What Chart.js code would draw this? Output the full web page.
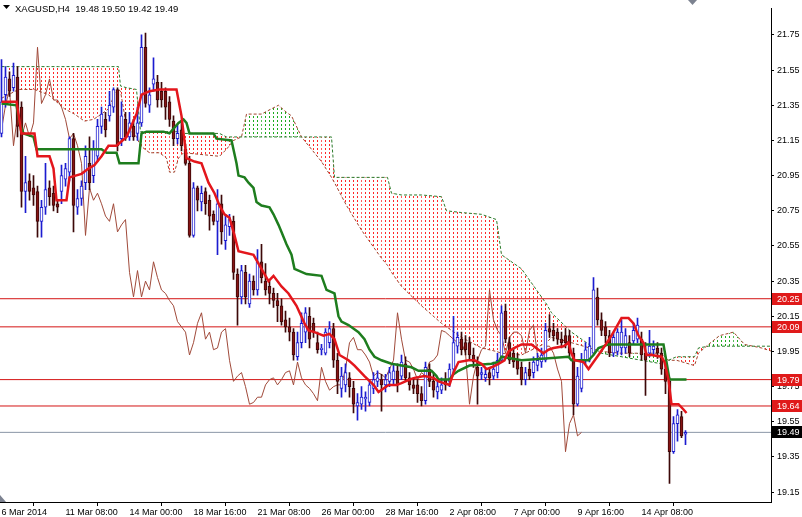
<!DOCTYPE html>
<html>
<head>
<meta charset="utf-8">
<script src="https://cdn.jsdelivr.net/npm/chart.js@4.4.1/dist/chart.umd.min.js"></script>
<style>
  html, body { margin: 0; padding: 0; background: #fff; }
  #wrap { width: 802px; height: 517px; }
</style>
</head>
<body>
<div id="wrap"><canvas id="chart" width="802" height="517"></canvas></div>
<script>
const symbolTitle = "XAGUSD,H4  19.48 19.50 19.42 19.49";

// H4 candles, one per bar (bar 0 = left edge)
const openPrices = [
  21.19, 21.41, 21.50, 21.45, 21.51, 21.34, 20.86, 20.92, 20.88, 20.86,
  20.69, 20.77, 20.88, 20.85, 20.79, 20.86, 20.93, 20.97, 21.16, 20.77,
  20.82, 20.91, 21.02, 20.95, 21.06, 21.23, 21.27, 21.29, 21.34, 21.44,
  21.16, 21.27, 21.17, 21.23, 21.19, 21.25, 21.68, 21.35, 21.47, 21.48,
  21.43, 21.43, 21.37, 21.26, 21.16, 21.21, 21.10, 21.02, 20.61, 20.88,
  20.80, 20.86, 20.81, 20.73, 20.69, 20.79, 20.58, 20.66, 20.69, 20.39,
  20.26, 20.40, 20.22, 20.35, 20.30, 20.46, 20.35, 20.32, 20.28, 20.24,
  20.21, 20.13, 20.09, 20.06, 19.92, 20.00, 20.06, 20.15, 20.11, 20.00,
  19.96, 19.94, 20.00, 20.08, 19.90, 19.74, 19.76, 19.80, 19.74, 19.64,
  19.65, 19.68, 19.66, 19.74, 19.78, 19.79, 19.76, 19.78, 19.79, 19.84,
  19.81, 19.88, 19.80, 19.76, 19.76, 19.71, 19.67, 19.85, 19.78, 19.72,
  19.73, 19.79, 19.78, 19.85, 19.98, 20.02, 20.00, 20.00, 19.93, 19.86,
  19.82, 19.80, 19.83, 19.81, 19.83, 19.90, 20.18, 20.00, 19.94, 19.90,
  19.86, 19.79, 19.85, 19.83, 19.87, 19.89, 19.90, 20.08, 20.07, 20.06,
  20.02, 20.04, 20.04, 19.94, 19.65, 19.74, 19.90, 19.90, 19.94, 20.26,
  20.13, 20.09, 20.04, 19.94, 19.95, 19.97, 19.97, 20.00, 20.01, 20.02,
  20.02, 19.94, 19.94, 19.96, 19.97, 19.94, 19.85, 19.78, 19.38, 19.54,
  19.58, 19.48
];
const highPrices = [
  21.61, 21.57, 21.54, 21.59, 21.57, 21.37, 21.06, 20.96, 20.95, 20.89,
  20.81, 21.02, 20.92, 20.89, 20.81, 21.01, 21.02, 21.17, 21.19, 20.87,
  20.92, 21.12, 21.17, 21.15, 21.27, 21.34, 21.31, 21.43, 21.45, 21.45,
  21.37, 21.31, 21.31, 21.27, 21.34, 21.75, 21.76, 21.45, 21.62, 21.52,
  21.48, 21.45, 21.40, 21.29, 21.24, 21.26, 21.13, 21.06, 20.91, 20.89,
  20.89, 20.88, 20.84, 20.75, 20.87, 20.84, 20.73, 20.73, 20.72, 20.42,
  20.44, 20.44, 20.39, 20.38, 20.53, 20.56, 20.45, 20.35, 20.31, 20.28,
  20.25, 20.18, 20.14, 20.08, 20.06, 20.17, 20.20, 20.20, 20.14, 20.06,
  19.99, 20.08, 20.12, 20.11, 19.94, 19.86, 19.88, 19.83, 19.78, 19.71,
  19.75, 19.72, 19.79, 19.83, 19.84, 19.82, 19.82, 19.86, 19.88, 19.88,
  19.93, 19.92, 19.83, 19.80, 19.79, 19.75, 19.89, 19.88, 19.82, 19.79,
  19.80, 19.83, 19.88, 20.15, 20.06, 20.06, 20.04, 20.03, 19.97, 19.92,
  19.86, 19.86, 19.86, 19.89, 19.94, 20.21, 20.22, 20.03, 19.97, 19.94,
  19.89, 19.86, 19.89, 19.92, 19.94, 19.97, 20.11, 20.16, 20.11, 20.08,
  20.06, 20.08, 20.07, 19.97, 19.86, 19.94, 20.00, 20.03, 20.37, 20.31,
  20.17, 20.12, 20.07, 20.06, 20.08, 20.13, 20.08, 20.04, 20.11, 20.14,
  20.06, 20.00, 20.07, 20.01, 20.00, 19.97, 19.88, 19.80, 19.58, 19.62,
  19.61, 19.50
];
const lowPrices = [
  21.17, 21.34, 21.40, 21.43, 21.17, 20.77, 20.74, 20.81, 20.78, 20.60,
  20.60, 20.73, 20.78, 20.75, 20.74, 20.79, 20.89, 20.92, 20.63, 20.73,
  20.78, 20.87, 20.87, 20.91, 21.03, 21.19, 21.17, 21.26, 21.31, 21.09,
  21.12, 21.15, 21.15, 21.15, 21.15, 21.23, 21.34, 21.31, 21.43, 21.34,
  21.34, 21.27, 21.23, 21.12, 21.13, 21.09, 21.01, 20.60, 20.60, 20.75,
  20.75, 20.73, 20.64, 20.67, 20.50, 20.56, 20.53, 20.61, 20.36, 20.10,
  20.22, 20.22, 20.20, 20.27, 20.27, 20.34, 20.27, 20.22, 20.20, 20.12,
  20.10, 20.06, 20.01, 19.90, 19.90, 19.97, 20.00, 19.97, 20.03, 19.94,
  19.93, 19.93, 19.97, 19.86, 19.71, 19.69, 19.72, 19.69, 19.60, 19.56,
  19.62, 19.61, 19.64, 19.71, 19.75, 19.61, 19.72, 19.75, 19.76, 19.72,
  19.79, 19.78, 19.73, 19.71, 19.66, 19.64, 19.65, 19.75, 19.69, 19.68,
  19.71, 19.73, 19.75, 19.82, 19.94, 19.93, 19.93, 19.90, 19.86, 19.65,
  19.79, 19.78, 19.76, 19.79, 19.80, 19.89, 20.00, 19.88, 19.86, 19.82,
  19.76, 19.76, 19.79, 19.80, 19.84, 19.86, 19.89, 20.03, 20.01, 19.99,
  19.97, 19.97, 19.92, 19.59, 19.64, 19.72, 19.88, 19.89, 19.93, 20.10,
  20.04, 20.00, 19.92, 19.92, 19.93, 19.93, 19.94, 19.92, 19.99, 20.00,
  19.90, 19.70, 19.92, 19.93, 19.91, 19.82, 19.71, 19.20, 19.37, 19.44,
  19.46, 19.42
];
const closePrices = [
  21.37, 21.51, 21.43, 21.52, 21.23, 20.86, 20.91, 20.86, 20.84, 20.69,
  20.77, 20.87, 20.83, 20.78, 20.77, 20.95, 20.99, 21.16, 20.78, 20.82,
  20.89, 21.06, 20.91, 21.10, 21.23, 21.30, 21.21, 21.35, 21.44, 21.12,
  21.29, 21.17, 21.25, 21.17, 21.25, 21.68, 21.36, 21.41, 21.50, 21.38,
  21.38, 21.34, 21.27, 21.16, 21.19, 21.12, 21.02, 20.61, 20.88, 20.81,
  20.85, 20.79, 20.72, 20.69, 20.79, 20.63, 20.67, 20.70, 20.40, 20.26,
  20.41, 20.26, 20.35, 20.30, 20.46, 20.37, 20.30, 20.28, 20.24, 20.21,
  20.12, 20.09, 20.06, 19.93, 20.00, 20.11, 20.17, 20.02, 20.06, 19.96,
  19.97, 20.06, 20.08, 19.90, 19.78, 19.81, 19.83, 19.75, 19.65, 19.66,
  19.69, 19.69, 19.76, 19.79, 19.80, 19.76, 19.79, 19.83, 19.84, 19.76,
  19.89, 19.80, 19.76, 19.74, 19.71, 19.67, 19.86, 19.78, 19.73, 19.75,
  19.76, 19.76, 19.85, 20.00, 20.03, 19.96, 19.96, 19.93, 19.89, 19.81,
  19.83, 19.82, 19.80, 19.85, 19.90, 20.17, 20.02, 19.90, 19.89, 19.85,
  19.79, 19.83, 19.81, 19.89, 19.90, 19.93, 20.07, 20.06, 20.04, 20.02,
  20.00, 20.00, 19.94, 19.65, 19.81, 19.90, 19.96, 19.98, 20.30, 20.13,
  20.07, 20.04, 19.94, 20.03, 20.06, 20.06, 20.04, 19.94, 20.07, 20.10,
  19.93, 19.90, 19.98, 19.98, 19.94, 19.85, 19.78, 19.38, 19.54, 19.59,
  19.47, 19.49
];

// Ichimoku lines, read as vertices (bar position, price)
const tenkanBars = [0, 3.75, 5, 8.25, 9, 12, 13, 13.75, 16.25, 17, 20, 21.75, 23.25, 25, 26.75, 28.75, 31.25, 33.75, 35, 37, 39.5, 43.75, 45, 46.25, 48.25, 50, 51.75, 53.25, 54.5, 55.75, 57, 58.25, 59.25, 63, 64.25, 66.75, 68, 70, 71.75, 73.75, 75.75, 76.75, 78.25, 80.5, 82, 83.25, 84.5, 86.75, 88.25, 90.75, 93, 94.25, 95.5, 96.75, 98.75, 100, 102, 103.25, 105.75, 108, 109.25, 112, 113, 114.25, 116.75, 118.25, 120, 121.25, 122.5, 124.25, 125.75, 126.75, 128.25, 130, 132.5, 134.25, 135.5, 136.75, 138, 140.5, 141.75, 142.5, 143.25, 145.5, 146.75, 148, 149.25, 150.75, 152.5, 153.75, 155, 156.75, 158, 159.25, 160.5, 161.25, 162.5, 165, 165.75, 166.75, 167.5, 169.25, 170.5, 171.25];
const tenkanValues = [21.37, 21.37, 21.19, 21.19, 21.06, 21.06, 20.99, 20.81, 20.81, 20.94, 20.96, 20.99, 21.01, 21.06, 21.12, 21.12, 21.17, 21.30, 21.41, 21.43, 21.44, 21.44, 21.29, 21.05, 21.03, 21.02, 20.91, 20.85, 20.78, 20.73, 20.71, 20.61, 20.52, 20.50, 20.45, 20.35, 20.38, 20.32, 20.28, 20.21, 20.11, 20.07, 20.06, 20.04, 20.05, 20.02, 19.93, 19.90, 19.87, 19.81, 19.76, 19.72, 19.74, 19.76, 19.76, 19.77, 19.79, 19.80, 19.81, 19.80, 19.78, 19.76, 19.83, 19.89, 19.90, 19.90, 19.88, 19.85, 19.86, 19.88, 19.90, 19.95, 19.97, 19.99, 19.99, 19.96, 19.94, 19.96, 19.97, 19.98, 20.00, 19.94, 19.90, 19.89, 19.85, 19.89, 19.93, 19.98, 20.04, 20.09, 20.14, 20.14, 20.11, 20.04, 20.00, 19.93, 19.93, 19.92, 19.89, 19.79, 19.65, 19.65, 19.62, 19.60];

const kijunBars = [0, 3.75, 4.5, 5.5, 8, 8.75, 25, 26.25, 28.75, 29.5, 34.25, 35, 36.25, 40.5, 42, 44.25, 45.5, 46.25, 47, 53, 53.75, 57.5, 58.75, 59.25, 60.75, 61.75, 63, 63.75, 65, 67, 68, 69.25, 70, 71.25, 72.5, 73.25, 76.25, 80, 81.25, 83.25, 84.25, 85, 86.75, 89.25, 90.75, 92, 93.25, 95, 97.5, 102.5, 104.25, 107.5, 108.75, 109.25, 112, 113, 114.25, 117, 122.5, 124.25, 125, 130, 141.75, 142.5, 146.75, 148, 149.25, 151.75, 165.5, 166.25, 167, 171.25];
const kijunValues = [21.36, 21.35, 21.25, 21.19, 21.17, 21.10, 21.10, 21.08, 21.08, 21.02, 21.02, 21.19, 21.20, 21.20, 21.19, 21.25, 21.27, 21.25, 21.19, 21.19, 21.16, 21.15, 21.02, 20.95, 20.94, 20.91, 20.88, 20.80, 20.78, 20.77, 20.73, 20.67, 20.63, 20.56, 20.50, 20.42, 20.39, 20.38, 20.30, 20.28, 20.15, 20.12, 20.10, 20.06, 20.02, 19.96, 19.92, 19.90, 19.88, 19.86, 19.84, 19.84, 19.81, 19.79, 19.79, 19.82, 19.84, 19.87, 19.88, 19.89, 19.92, 19.90, 19.92, 19.90, 19.90, 19.93, 19.97, 19.99, 19.99, 19.89, 19.79, 19.79];

// Senkou spans (cloud), shared vertices
const spanBars = [0, 4.25, 8.25, 11.75, 14.25, 15.75, 18.25, 20.75, 23, 25, 26.75, 28.25, 29.25, 29.75, 31.25, 33.75, 34.75, 37, 39.5, 41.25, 42, 43.25, 44.25, 45.5, 54.5, 56.25, 58, 60, 61.25, 65, 67.5, 69.25, 71.25, 72.5, 75, 80, 82.5, 83.25, 86.25, 90, 95, 96.5, 97.5, 100, 105, 110, 111.25, 115, 120, 123.75, 125, 130, 136.25, 137.5, 142.5, 150, 155, 165, 166.75, 168.75, 173.25, 174.25, 176.75, 179.5, 183, 185.75, 190, 192.75];
const spanA = [21.39, 21.44, 21.44, 21.41, 21.36, 21.33, 21.30, 21.26, 21.27, 21.30, 21.33, 21.41, 21.44, 21.43, 21.23, 21.17, 21.12, 21.08, 21.08, 21.05, 20.97, 20.97, 21.05, 21.08, 21.06, 21.10, 21.15, 21.17, 21.30, 21.30, 21.33, 21.35, 21.31, 21.29, 21.17, 21.03, 20.94, 20.91, 20.78, 20.64, 20.48, 20.44, 20.40, 20.32, 20.21, 20.11, 20.09, 20.03, 19.97, 19.95, 19.94, 19.93, 20.00, 20.03, 20.00, 19.95, 19.94, 19.94, 19.90, 19.90, 19.87, 19.94, 19.99, 20.04, 20.06, 19.99, 19.97, 19.95];
const spanB = [21.57, 21.57, 21.57, 21.57, 21.57, 21.57, 21.57, 21.57, 21.57, 21.57, 21.57, 21.57, 21.57, 21.46, 21.45, 21.44, 21.20, 21.20, 21.20, 21.20, 21.20, 21.20, 21.20, 21.19, 21.19, 21.17, 21.17, 21.17, 21.17, 21.17, 21.17, 21.17, 21.17, 21.17, 21.17, 21.17, 21.17, 20.94, 20.94, 20.94, 20.94, 20.94, 20.85, 20.84, 20.84, 20.83, 20.75, 20.74, 20.73, 20.70, 20.50, 20.42, 20.22, 20.17, 20.06, 19.94, 19.92, 19.88, 19.90, 19.92, 19.92, 19.97, 19.98, 19.98, 19.98, 19.98, 19.98, 19.98];
const chikouShift = 26;

const levelPrices = [20.25, 20.09, 19.79, 19.64];
const lastPrice = 19.49;

const yTickValues = [21.75, 21.55, 21.35, 21.15, 20.95, 20.75, 20.55, 20.35, 20.15, 19.95, 19.75, 19.55, 19.35, 19.15];
const xTickBars = [0, 16, 32, 48, 64, 80, 96, 112, 128, 144, 160];
const xTickLabels = ["6 Mar 2014", "11 Mar 08:00", "14 Mar 00:00", "18 Mar 16:00", "21 Mar 08:00", "26 Mar 00:00", "28 Mar 16:00", "2 Apr 08:00", "7 Apr 00:00", "9 Apr 16:00", "14 Apr 08:00"];

const uiFont = "'Liberation Sans', Arial, sans-serif";

const toPoints = (xs, ys) => xs.map((x, i) => ({ x: x, y: ys[i] }));
const isBull = (i) => closePrices[i] >= openPrices[i];

const bullColor = "#1c1cd0";
const bearFill = "#861414";
const bearEdge = "#3c0808";

const candleWicks = lowPrices.map((lo, i) => ({ x: i, y: [lo, highPrices[i]] }));
const candleBodies = openPrices.map((o, i) => ({ x: i, y: [o, closePrices[i]] }));
const chikouPoints = closePrices
  .map((c, i) => ({ x: i - chikouShift, y: c }))
  .filter((p) => p.x >= -1);

const levelSets = levelPrices.map((p) => ({
  type: "line",
  data: [{ x: -5, y: p }, { x: 200, y: p }],
  borderColor: "#d41414",
  borderWidth: 1,
  pointRadius: 0,
  order: 9,
}));

// dotted hatch between the two senkou spans, green where A is above B
const cloudHatch = {
  id: "cloudHatch",
  beforeDatasetsDraw(chart) {
    const { ctx, chartArea, scales } = chart;
    const xs = scales.x;
    const ys = scales.y;
    const hatch = (pts, color) => {
      ctx.save();
      ctx.beginPath();
      ctx.moveTo(pts[0][0], pts[0][1]);
      for (let k = 1; k < pts.length; k++) ctx.lineTo(pts[k][0], pts[k][1]);
      ctx.closePath();
      ctx.clip();
      const lo = Math.min(...pts.map((p) => p[0]));
      const hi = Math.max(...pts.map((p) => p[0]));
      ctx.fillStyle = color;
      for (let px = Math.floor(lo / 4) * 4 + 1; px <= hi; px += 4) {
        for (let py = 0; py < chartArea.bottom; py += 4) {
          ctx.fillRect(px, py, 1, 2);
        }
      }
      ctx.restore();
    };
    ctx.save();
    ctx.beginPath();
    ctx.rect(chartArea.left, chartArea.top, chartArea.width, chartArea.height);
    ctx.clip();
    for (let k = 0; k < spanBars.length - 1; k++) {
      const x0 = xs.getPixelForValue(spanBars[k]);
      const x1 = xs.getPixelForValue(spanBars[k + 1]);
      const a0 = ys.getPixelForValue(spanA[k]);
      const a1 = ys.getPixelForValue(spanA[k + 1]);
      const b0 = ys.getPixelForValue(spanB[k]);
      const b1 = ys.getPixelForValue(spanB[k + 1]);
      const d0 = spanA[k] - spanB[k];
      const d1 = spanA[k + 1] - spanB[k + 1];
      const up = "rgb(30, 170, 30)";
      const down = "rgb(255, 40, 40)";
      if (d0 * d1 >= 0) {
        hatch([[x0, a0], [x1, a1], [x1, b1], [x0, b0]], d0 + d1 >= 0 ? up : down);
      } else {
        const t = d0 / (d0 - d1);
        const xc = x0 + t * (x1 - x0);
        const yc = a0 + t * (a1 - a0);
        hatch([[x0, a0], [xc, yc], [x0, b0]], d0 > 0 ? up : down);
        hatch([[xc, yc], [x1, a1], [x1, b1]], d1 > 0 ? up : down);
      }
    }
    ctx.restore();
  },
};

const priceTags = {
  id: "priceTags",
  afterDraw(chart) {
    const ctx = chart.ctx;
    const y = chart.scales.y;
    const left = chart.chartArea.right + 1;
    ctx.save();
    ctx.font = "9px " + uiFont;
    ctx.textBaseline = "middle";
    const tag = (price, bg) => {
      const py = Math.round(y.getPixelForValue(price));
      ctx.fillStyle = bg;
      ctx.fillRect(left, py - 6, 802 - left, 12);
      ctx.fillStyle = "#ffffff";
      ctx.fillText(price.toFixed(2), left + 5, py + 0.5);
    };
    levelPrices.forEach((p) => tag(p, "#e01a1a"));
    tag(lastPrice, "#000000");

    // title
    ctx.fillStyle = "#000";
    ctx.beginPath();
    ctx.moveTo(3, 5);
    ctx.lineTo(10, 5);
    ctx.lineTo(6.5, 9);
    ctx.closePath();
    ctx.fill();
    ctx.textBaseline = "alphabetic";
    ctx.font = "9.5px " + uiFont;
    ctx.fillText(symbolTitle, 15, 12);

    // chart shift markers
    ctx.fillStyle = "#7c8290";
    ctx.beginPath();
    ctx.moveTo(688, 0);
    ctx.lineTo(697, 0);
    ctx.lineTo(692.5, 5);
    ctx.closePath();
    ctx.fill();
    const b = chart.chartArea.bottom;
    ctx.beginPath();
    ctx.moveTo(0, b - 7);
    ctx.lineTo(6, b);
    ctx.lineTo(0, b);
    ctx.closePath();
    ctx.fill();
    ctx.restore();
  },
};

new Chart(document.getElementById("chart"), {
  type: "line",
  data: {
    datasets: [
      {
        label: "Senkou A",
        data: toPoints(spanBars, spanA),
        borderColor: "#a2452e",
        borderWidth: 1,
        borderDash: [3, 2],
        pointRadius: 0,
        order: 11,
      },
      {
        label: "Senkou B",
        data: toPoints(spanBars, spanB),
        borderColor: "#2a7a2a",
        borderWidth: 1,
        borderDash: [3, 2],
        pointRadius: 0,
        order: 10,
      },
      ...levelSets,
      {
        label: "Last",
        data: [{ x: -5, y: lastPrice }, { x: 200, y: lastPrice }],
        borderColor: "#8a96a6",
        borderWidth: 1,
        pointRadius: 0,
        order: 9,
      },
      {
        label: "Chikou",
        data: chikouPoints,
        borderColor: "#a04a3a",
        borderWidth: 1,
        pointRadius: 0,
        order: 8,
      },
      {
        type: "bar",
        label: "Wicks",
        data: candleWicks,
        backgroundColor: (c) => (isBull(c.dataIndex) ? bullColor : bearEdge),
        barThickness: 1,
        grouped: false,
        order: 6,
      },
      {
        type: "bar",
        label: "Bodies",
        data: candleBodies,
        backgroundColor: (c) => (isBull(c.dataIndex) ? "#ffffff" : bearFill),
        borderColor: (c) => (isBull(c.dataIndex) ? bullColor : bearEdge),
        borderWidth: 1,
        borderSkipped: false,
        barThickness: 3,
        grouped: false,
        order: 5,
      },
      {
        label: "Kijun",
        data: toPoints(kijunBars, kijunValues),
        borderColor: "#1e7d1e",
        borderWidth: 2.5,
        pointRadius: 0,
        order: 3,
      },
      {
        label: "Tenkan",
        data: toPoints(tenkanBars, tenkanValues),
        borderColor: "#e3161c",
        borderWidth: 2.5,
        pointRadius: 0,
        order: 2,
      },
    ],
  },
  options: {
    responsive: false,
    animation: false,
    devicePixelRatio: 1,
    layout: { padding: 0 },
    plugins: {
      legend: { display: false },
      tooltip: { enabled: false },
    },
    scales: {
      x: {
        type: "linear",
        min: -0.375,
        max: 192.375,
        offset: false,
        afterBuildTicks: (s) => {
          s.ticks = xTickBars.map((v) => ({ value: v }));
        },
        afterFit: (s) => {
          s.height = 15;
        },
        ticks: {
          autoSkip: false,
          maxRotation: 0,
          align: "start",
          padding: 1,
          color: "#000",
          font: { family: uiFont, size: 9 },
          callback: (v, i) => xTickLabels[i],
        },
        grid: { drawOnChartArea: false, tickLength: 4, color: "#000" },
        border: { display: true, color: "#000", width: 1 },
      },
      y: {
        type: "linear",
        position: "right",
        min: 19.094,
        max: 21.901,
        beginAtZero: false,
        afterBuildTicks: (s) => {
          s.ticks = yTickValues.map((v) => ({ value: v }));
        },
        afterFit: (s) => {
          s.width = 31;
        },
        ticks: {
          padding: 3,
          color: "#000",
          font: { family: uiFont, size: 9 },
          callback: (v) => v.toFixed(2),
        },
        grid: { drawOnChartArea: false, tickLength: 3, color: "#000" },
        border: { display: true, color: "#000", width: 1 },
      },
    },
  },
  plugins: [cloudHatch, priceTags],
});
</script>
</body>
</html>
